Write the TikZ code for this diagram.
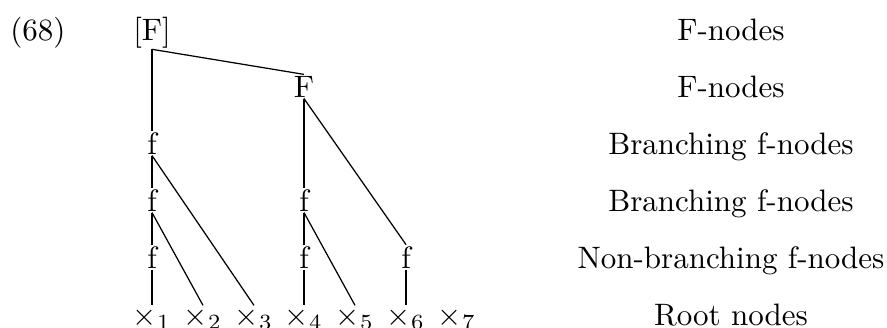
\documentclass[tikz,border=0pt]{standalone}
\begin{document}
\begin{tikzpicture}[x=0.3226pt,y=-0.3226pt,
  lbl/.style={anchor=base,inner sep=0pt},
  tn/.style={anchor=base,inner sep=0.3pt},
  edge/.style={draw,line width=0.4pt}]
\useasboundingbox (0,0) rectangle (887,327);
% example number
\node[lbl] (ex) at (38,40) {(68)};
% tree nodes
\node[tn] (F1) at (152,40) {[F]};
\node[tn] (F2) at (304,97) {F};
\node[tn] (fa) at (152,154) {f};
\node[tn] (fb) at (152,211) {f};
\node[tn] (fc) at (152,268) {f};
\node[tn] (fd) at (304,211) {f};
\node[tn] (fe) at (304,268) {f};
\node[tn] (ff) at (406,268) {f};
\node[tn] (x1) at (152,325) {$\times_1$};
\node[tn] (x2) at (203,325) {$\times_2$};
\node[tn] (x3) at (254,325) {$\times_3$};
\node[tn] (x4) at (304,325) {$\times_4$};
\node[tn] (x5) at (355,325) {$\times_5$};
\node[tn] (x6) at (406,325) {$\times_6$};
\node[tn] (x7) at (457,325) {$\times_7$};
% edges
\draw[edge] (F1.south) -- (fa.north);
\draw[edge] (F1.south) -- (F2.north);
\draw[edge] (fa.south) -- (fb.north);
\draw[edge] (fa.south) -- (x3.north);
\draw[edge] (fb.south) -- (fc.north);
\draw[edge] (fb.south) -- (x2.north);
\draw[edge] (fc.south) -- (x1.north);
\draw[edge] (F2.south) -- (fd.north);
\draw[edge] (F2.south) -- (ff.north);
\draw[edge] (fd.south) -- (fe.north);
\draw[edge] (fd.south) -- (x5.north);
\draw[edge] (fe.south) -- (x4.north);
\draw[edge] (ff.south) -- (x6.north);
% level labels
\node[lbl] (l1) at (731,40) {F-nodes};
\node[lbl] (l2) at (731,97) {F-nodes};
\node[lbl] (l3) at (731,154) {Branching f-nodes};
\node[lbl] (l4) at (731,211) {Branching f-nodes};
\node[lbl] (l5) at (731,268) {Non-branching f-nodes};
\node[lbl] (l6) at (731,325) {Root nodes};
\end{tikzpicture}
\end{document}
